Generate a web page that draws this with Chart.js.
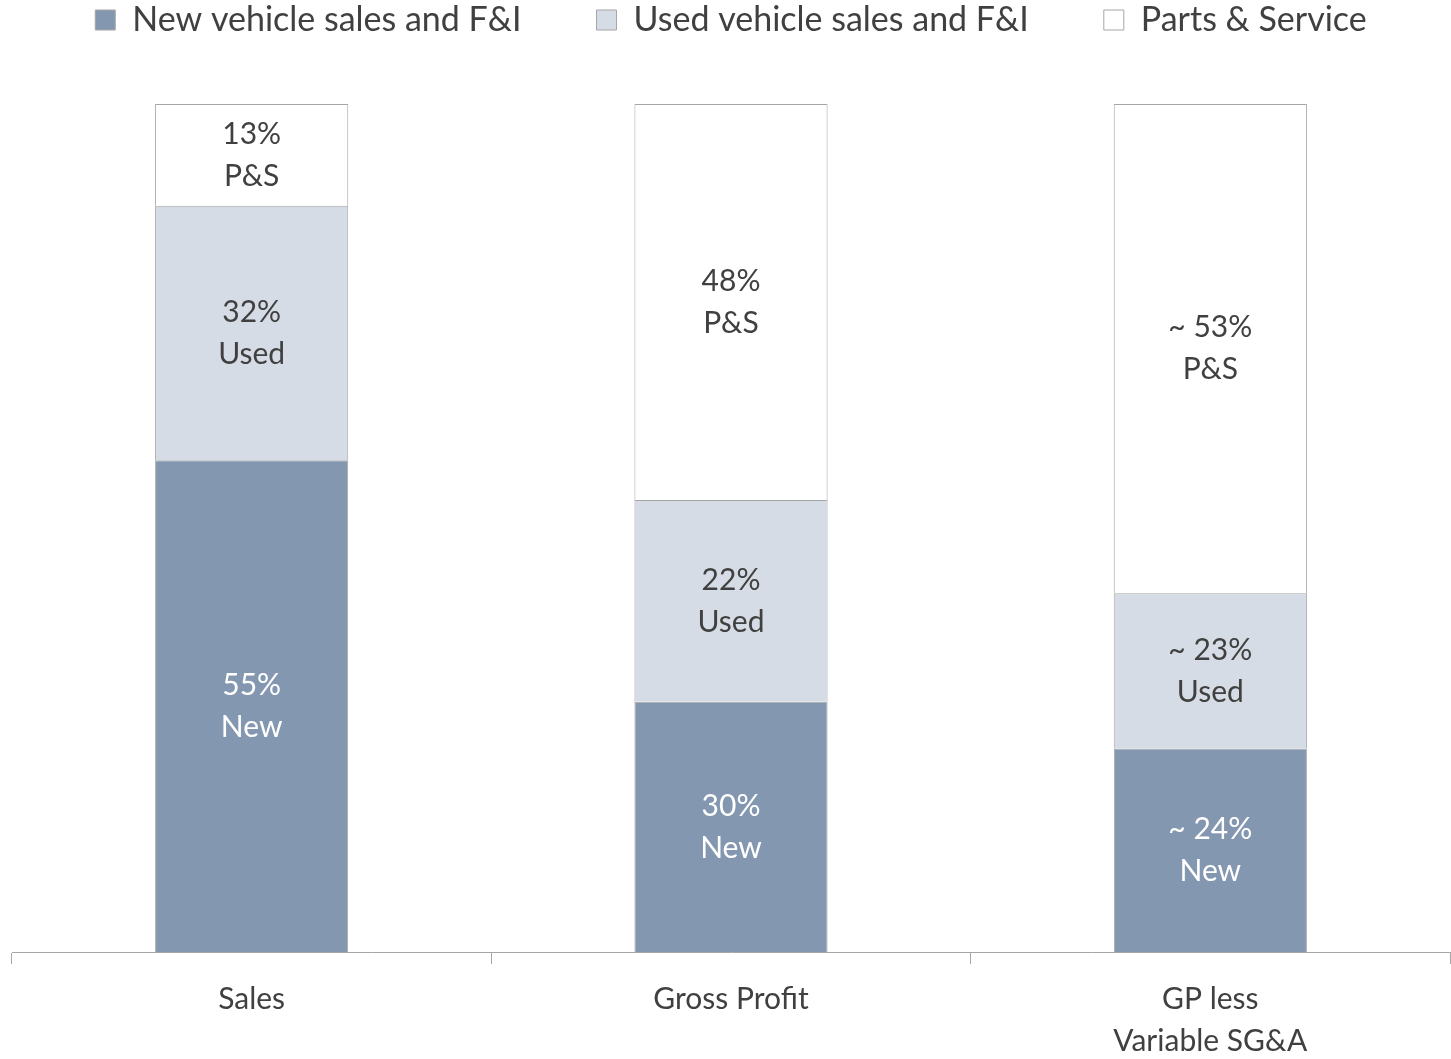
<!DOCTYPE html>
<html>
<head>
<meta charset="utf-8">
<script src="https://cdn.jsdelivr.net/npm/chart.js@4"></script>
<style>
    body { margin: 0; background: #ffffff; }
    #wrap { width: 1451px; height: 1059px; position: relative; }
</style>
</head>
<body>
<div id="wrap"><canvas id="mixChart"></canvas></div>
<script>
const categories = ['Sales', 'Gross Profit', ['GP less', 'Variable SG&A']];
const seriesNames = ['New vehicle sales and F&I', 'Used vehicle sales and F&I', 'Parts & Service'];

// segment heights as drawn (share of 100)
const newShare = [58, 29.5, 24];
const usedShare = [30, 23.8, 18.3];
const partsShare = [12, 46.7, 57.7];

// text printed inside each segment
const newLabels = [['55%', 'New'], ['30%', 'New'], ['~ 24%', 'New']];
const usedLabels = [['32%', 'Used'], ['22%', 'Used'], ['~ 23%', 'Used']];
const partsLabels = [['13%', 'P&S'], ['48%', 'P&S'], ['~ 53%', 'P&S']];

const fontFamily = 'Lato, "Open Sans", sans-serif';
const legendGap = 75;
const legendShift = 72; // pull legend up so its row sits near the top edge

const segmentText = {
    id: 'segmentText',
    afterDatasetsDraw(chart) {
        const ctx = chart.ctx;
        ctx.save();
        ctx.font = '30px ' + fontFamily;
        ctx.textAlign = 'center';
        ctx.textBaseline = 'middle';
        chart.data.datasets.forEach((ds, i) => {
            const meta = chart.getDatasetMeta(i);
            meta.data.forEach((bar, j) => {
                const lines = ds.segLabels[j];
                const mid = (bar.y + bar.base) / 2;
                ctx.fillStyle = ds.labelColor;
                const lh = 42;
                lines.forEach((t, k) => {
                    ctx.fillText(t, bar.x, mid + (k - (lines.length - 1) / 2) * lh);
                });
            });
        });
        ctx.restore();
    }
};

const legendSpace = {
    id: 'legendSpace',
    beforeInit(chart) {
        const origFit = chart.legend.fit;
        chart.legend.fit = function() {
            origFit.bind(chart.legend)();
            this.height = 104 + legendShift;
        };
    }
};

new Chart(document.getElementById('mixChart').getContext('2d'), {
    type: 'bar',
    data: {
        labels: categories,
        datasets: [{
            label: seriesNames[0],
            data: newShare,
            segLabels: newLabels,
            labelColor: '#ffffff',
            backgroundColor: '#8497b0',
            borderColor: '#a6a6a6',
            borderWidth: 1
        }, {
            label: seriesNames[1],
            data: usedShare,
            segLabels: usedLabels,
            labelColor: '#404040',
            backgroundColor: '#d6dce5',
            borderColor: '#a6a6a6',
            borderWidth: 1
        }, {
            label: seriesNames[2],
            data: partsShare,
            segLabels: partsLabels,
            labelColor: '#404040',
            backgroundColor: '#ffffff',
            borderColor: '#a6a6a6',
            borderWidth: 1
        }]
    },
    options: {
        responsive: true,
        maintainAspectRatio: false,
        animation: false,
        datasets: { bar: { categoryPercentage: 1, barPercentage: 0.403 } },
        layout: { padding: { left: 12, right: 1, top: -legendShift, bottom: -17 } },
        plugins: {
            legend: {
                position: 'top',
                labels: {
                    color: '#404040',
                    font: { family: fontFamily, size: 34 },
                    boxWidth: 20,
                    boxHeight: 20,
                    padding: legendGap
                }
            },
            tooltip: { enabled: false }
        },
        scales: {
            x: {
                stacked: true,
                grid: { drawOnChartArea: false, drawTicks: true, tickLength: 12, color: '#a6a6a6' },
                border: { color: '#a6a6a6' },
                ticks: { color: '#404040', font: { family: fontFamily, size: 30, lineHeight: 1.4 }, padding: 14 }
            },
            y: {
                stacked: true,
                display: false,
                min: 0,
                max: 100
            }
        }
    },
    plugins: [segmentText, legendSpace]
});
</script>
</body>
</html>
